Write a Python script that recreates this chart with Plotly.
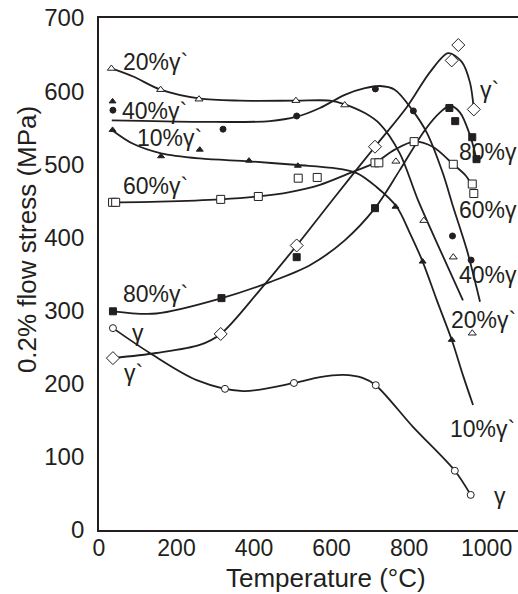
import plotly.graph_objects as go

# ---------------- data ----------------
# gamma (open circles)
g_x = [36, 325, 503, 714, 918, 959]
g_y = [276, 193, 201, 198, 81, 48]
gc_x = [36, 131, 252, 372, 503, 570, 630, 680, 714, 810, 918, 959]
gc_y = [276, 242, 205, 190, 201, 209, 212, 208, 198, 141, 81, 48]

# gamma prime (open diamonds)
gp_x = [36, 314, 510, 712, 910, 927, 967]
gp_y = [235, 268, 389, 524, 642, 663, 575]
gpc_x = [36, 148, 260, 314, 415, 510, 611, 712, 794, 854, 901, 936, 957, 967]
gpc_y = [235, 242, 253, 268, 328, 389, 457, 524, 578, 626, 652, 640, 612, 575]

# 80% gamma' (filled squares)
p80_x = [36, 316, 510, 712, 904, 919, 963, 974]
p80_y = [299, 317, 373, 440, 577, 559, 537, 507]
c80_x = [36, 148, 317, 441, 544, 634, 712, 776, 841, 880, 905, 931, 957, 973]
c80_y = [299, 296, 317, 339, 362, 396, 440, 492, 547, 571, 580, 571, 540, 509]

# 60% gamma' (open squares)
p60_x = [35, 43, 314, 411, 514, 563, 712, 722, 813, 914, 963, 967]
p60_y = [448, 448, 452, 456, 481, 482, 502, 502, 531, 500, 473, 460]
c60_x = [35, 157, 314, 411, 492, 570, 647, 712, 763, 813, 861, 914, 947, 965]
c60_y = [448, 449, 452, 456, 462, 472, 488, 502, 520, 531, 524, 500, 484, 468]

# 40% gamma' (filled circles)
p40_x = [36, 320, 510, 713, 811, 912, 960]
p40_y = [574, 548, 566, 603, 573, 402, 369]
c40_x = [33, 260, 441, 510, 570, 634, 686, 725, 763, 810, 846, 887, 913, 949, 983]
c40_y = [560, 558, 559, 565, 577, 595, 604, 607, 602, 573, 543, 488, 443, 383, 312]

# 20% gamma' (open triangles)
p20_x = [32, 159, 258, 508, 634, 766, 838, 914, 963]
p20_y = [631, 602, 589, 587, 581, 504, 423, 373, 269]
c20_x = [32, 88, 159, 258, 363, 508, 596, 634, 686, 725, 776, 823, 880, 939]
c20_y = [631, 620, 602, 590, 587, 587, 587, 582, 570, 555, 515, 451, 383, 314]

# 10% gamma' (filled triangles)
p10_x = [35, 35, 160, 260, 387, 513, 765, 835, 910]
p10_y = [586, 547, 511, 520, 505, 498, 442, 367, 260]
c10_x = [33, 88, 160, 260, 387, 513, 603, 665, 716, 768, 802, 835, 871, 910, 940, 965]
c10_y = [547, 528, 515, 508, 504, 499, 495, 488, 469, 442, 406, 367, 315, 260, 210, 171]

# curve labels: text, x, y, anchor
lab_text = ["20%γ`", "40%γ`", "10%γ`", "60%γ`", "80%γ`", "γ", "γ`",
            "γ`", "80%γ", "60%γ", "40%γ", "20%γ`", "10%γ`", "γ"]
lab_x = [58, 54, 92, 58, 58, 101, 88,
         1008, 923, 923, 923, 1080, 900, 1034]
lab_y = [640, 573, 536, 470, 323, 270, 214,
         601, 517, 437, 349, 287, 138, 46]
lab_anchor = ["left", "left", "left", "left", "left", "center", "center",
              "center", "left", "left", "left", "right", "left", "center"]

x_ticks = [0, 200, 400, 600, 800, 1000]
y_ticks = [0, 100, 200, 300, 400, 500, 600, 700]

INK = "#231f20"
FONT = "Liberation Sans, Arial, sans-serif"

fig = go.Figure()

curves = [(gc_x, gc_y), (gpc_x, gpc_y), (c80_x, c80_y), (c60_x, c60_y),
          (c40_x, c40_y), (c20_x, c20_y), (c10_x, c10_y)]
for cx, cy in curves:
    fig.add_trace(go.Scatter(x=cx, y=cy, mode="lines",
                             line=dict(color=INK, width=1.8, shape="spline", smoothing=0.9),
                             hoverinfo="skip", showlegend=False))

markers = [
    (g_x, g_y, "circle", "white", 7),
    (gp_x, gp_y, "diamond", "white", 10),
    (p80_x, p80_y, "square", INK, 7),
    (p60_x, p60_y, "square", "white", 8),
    (p40_x, p40_y, "circle", INK, 6),
    (p20_x, p20_y, "triangle-up", "white", 7),
    (p10_x, p10_y, "triangle-up", INK, 6),
]
for mx, my, sym, col, sz in markers:
    fig.add_trace(go.Scatter(x=mx, y=my, mode="markers",
                             marker=dict(symbol=sym, color=col, size=sz,
                                         line=dict(color=INK, width=1)),
                             showlegend=False))

for t, x, y, a in zip(lab_text, lab_x, lab_y, lab_anchor):
    fig.add_annotation(x=x, y=y, xref="x", yref="y", text=t, showarrow=False,
                       xanchor=a, yanchor="middle",
                       font=dict(family=FONT, size=23, color=INK))

# axis titles
fig.add_annotation(x=0.5406, y=-0.094, xref="paper", yref="paper",
                   text="Temperature (°C)", showarrow=False,
                   xanchor="center", yanchor="middle",
                   font=dict(family=FONT, size=26, color=INK))
fig.add_annotation(x=-0.172, y=0.568, xref="paper", yref="paper",
                   text="0.2% flow stress (MPa)", showarrow=False, textangle=-90,
                   xanchor="center", yanchor="middle",
                   font=dict(family=FONT, size=26, color=INK))

fig.update_layout(
    width=518, height=594,
    margin=dict(l=99, r=0, t=18, b=64),
    paper_bgcolor="white", plot_bgcolor="white",
    showlegend=False,
    font=dict(family=FONT, color=INK, size=24),
)
fig.update_xaxes(range=[0, 1081], tickvals=x_ticks, ticks="", showgrid=False,
                 zeroline=False, showline=True, linecolor=INK, linewidth=1.8,
                 mirror=True, tickfont=dict(size=23, color=INK),
                 ticklabelstandoff=-4)
fig.update_yaxes(range=[0, 700], tickvals=y_ticks, ticks="", showgrid=False,
                 zeroline=False, showline=True, linecolor=INK, linewidth=1.8,
                 tickfont=dict(size=24, color=INK), ticklabelstandoff=8)

fig.write_html("out.html")
